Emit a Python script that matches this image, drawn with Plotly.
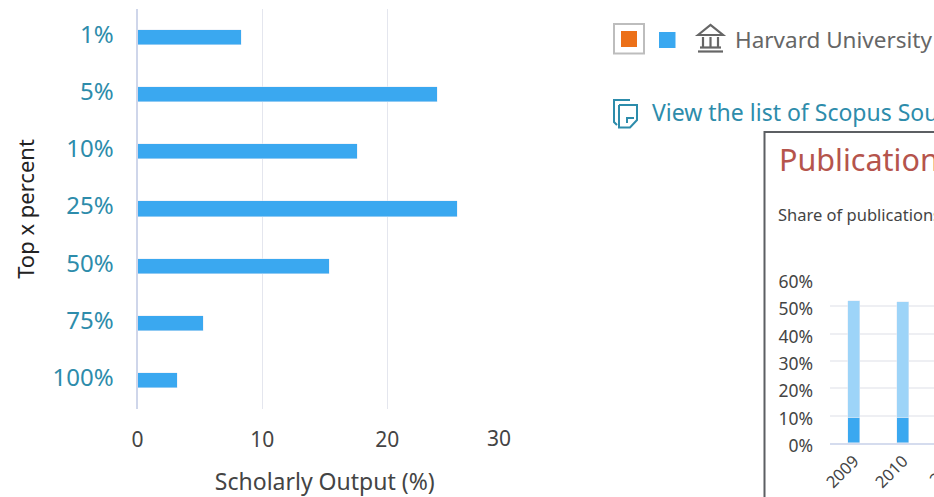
import plotly.graph_objects as go

W, H = 934, 497
def px(x): return x / W
def py(y): return 1 - y / H

# Main chart data
percentiles = ["1%", "5%", "10%", "25%", "50%", "75%", "100%"]
output_share = [8.3, 24.0, 17.6, 25.6, 15.4, 5.3, 3.2]
main_ticks = [0, 10, 20]

# Inset chart data
years = ["2009", "2010"]
top_share = [9.3, 9.3]
rest_share = [42.7, 42.2]
inset_ticks = [0, 10, 20, 30, 40, 50, 60]
inset_labels = ["0%", "10%", "20%", "30%", "40%", "50%", "60%"]

FONT = "Noto Sans"
TEAL = "#2d8cab"
DARK = "#444444"
BLUE = "#3aa8f0"
LIGHT = "#9dd4f8"

fig = go.Figure()
fig.add_trace(go.Bar(y=percentiles, x=output_share, orientation="h", marker=dict(color=BLUE),
                     width=0.265, xaxis="x", yaxis="y", showlegend=False))
fig.add_trace(go.Bar(x=years, y=top_share, marker=dict(color=BLUE), width=0.25,
                     xaxis="x2", yaxis="y2", showlegend=False))
fig.add_trace(go.Bar(x=years, y=rest_share, marker=dict(color=LIGHT), width=0.25,
                     xaxis="x2", yaxis="y2", showlegend=False))

shapes = [
    dict(type="rect", xref="paper", yref="paper", x0=px(764.5), x1=px(960), y0=py(132), y1=py(520),
         line=dict(color="#5c5f63", width=2), fillcolor="white", layer="below"),
    dict(type="rect", xref="paper", yref="paper", x0=px(614), x1=px(644), y0=py(24), y1=py(53.5),
         line=dict(color="#bdbdbd", width=2), fillcolor="white"),
    dict(type="rect", xref="paper", yref="paper", x0=px(621), x1=px(637), y0=py(31), y1=py(47),
         line=dict(width=0), fillcolor="#ec7018"),
    dict(type="rect", xref="paper", yref="paper", x0=px(659), x1=px(675.5), y0=py(32), y1=py(48),
         line=dict(width=0), fillcolor=BLUE),
]

def path(points, close=False):
    s = "M " + " L ".join(f"{px(x):.5f},{py(y):.5f}" for x, y in points)
    return s + (" Z" if close else "")

ICON = "#666666"
for pts, close in [
    ([(698, 35), (710.5, 25), (723, 35)], True),
    ([(698, 51.5), (723, 51.5)], False),
    ([(700, 47.5), (721, 47.5)], False),
    ([(703, 37), (703, 47)], False),
    ([(710.5, 37), (710.5, 47)], False),
    ([(718, 37), (718, 47)], False),
]:
    shapes.append(dict(type="path", xref="paper", yref="paper", path=path(pts, close),
                       line=dict(color=ICON, width=2.2)))

for pts in [
    [(630, 100), (614, 100), (614, 122), (617, 125)],
    [(619, 105), (637, 105), (637, 120), (630, 127.5), (619, 127.5), (619, 105)],
    [(627, 123), (627, 118), (634, 118)],
]:
    shapes.append(dict(type="path", xref="paper", yref="paper", path=path(pts),
                       line=dict(color=TEAL, width=2)))

def note(text, x, y, size, color=DARK, anchor="left", angle=0):
    return dict(text=text, x=px(x), y=py(y), xref="paper", yref="paper", showarrow=False,
                xanchor=anchor, yanchor="middle", textangle=angle,
                font=dict(family=FONT, size=size, color=color))

annotations = [
    dict(text="30", x=30, xref="x", y=py(438), yref="paper", showarrow=False, xanchor="right",
         yanchor="middle", xshift=1, font=dict(family=FONT, size=21, color=DARK)),
    note("Harvard University", 733, 39.5, 22.5, "#666666"),
    note("View the list of Scopus Sources", 650, 112, 23, TEAL),
    note("Publications in Top Journal", 777, 159, 30.5, "#b5544c"),
    note("Share of publications", 776, 214.5, 16.5, DARK),
    note("2011", 945, 468, 16.5, DARK, "center", -45),
]

fig.update_layout(
    width=W, height=H, autosize=False, margin=dict(l=0, r=0, t=0, b=0),
    paper_bgcolor="white", plot_bgcolor="rgba(0,0,0,0)", barmode="stack", bargap=0,
    shapes=shapes, annotations=annotations,
    xaxis=dict(domain=[px(137.5), px(512)], range=[0, 30], tickvals=main_ticks, showgrid=True,
               gridcolor="#e4e6ee", gridwidth=1, zeroline=False, showline=False, ticks="",
               tickfont=dict(family=FONT, size=21, color=DARK), anchor="y", ticklabelstandoff=16,
               automargin=False,
               title=dict(text="Scholarly Output (%)", standoff=22,
                          font=dict(family=FONT, size=23, color=DARK))),
    yaxis=dict(domain=[py(409), py(9)], autorange="reversed", showgrid=False, showline=True,
               linecolor="#cfd6ea", linewidth=2, ticks="", zeroline=False,
               ticklabelstandoff=17, ticklabelshift=3, anchor="x", automargin=False,
               tickfont=dict(family=FONT, size=24, color=TEAL),
               title=dict(text="Top x percent", standoff=12,
                          font=dict(family=FONT, size=22, color="#222222"))),
    xaxis2=dict(domain=[px(830), 1], range=[-0.49, 1.63], showgrid=False, showline=True,
                linecolor="#d5dcee", linewidth=2, ticks="", tickangle=-45, anchor="y2",
                automargin=False, tickfont=dict(family=FONT, size=16.5, color=DARK)),
    yaxis2=dict(domain=[py(443), py(279)], range=[0, 60], tickvals=inset_ticks, ticktext=inset_labels,
                showgrid=True, gridcolor="#eeeff3", gridwidth=1.5, zeroline=False, showline=False,
                ticks="", ticklabelstandoff=16, ticklabelshift=3, anchor="x2", automargin=False,
                tickfont=dict(family=FONT, size=17.5, color=DARK)),
)
fig.write_html("out.html", config=dict(displayModeBar=False),
               post_script="document.body.style.margin='0';document.body.style.overflow='hidden';")
